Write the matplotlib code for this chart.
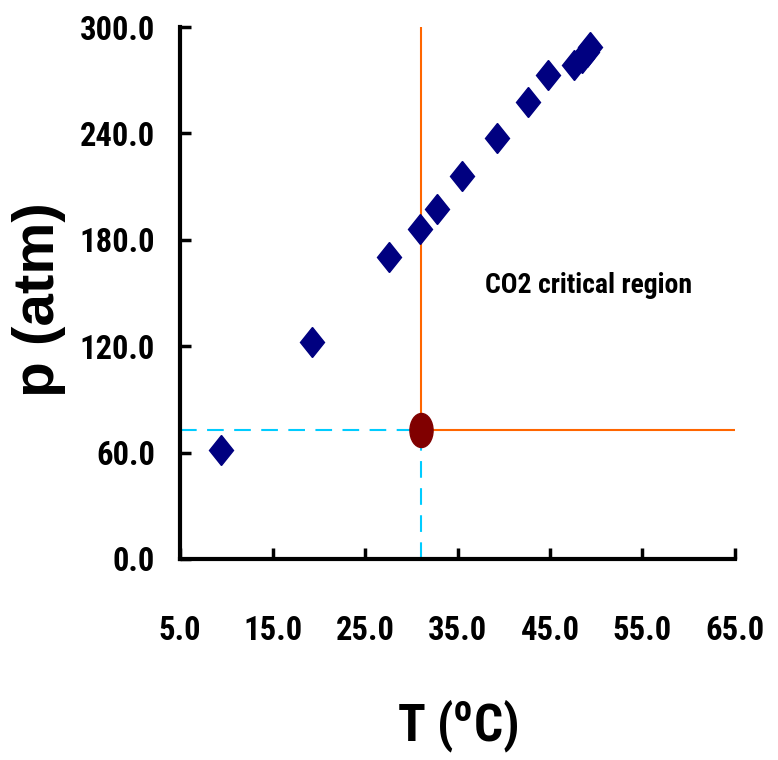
import matplotlib
matplotlib.use('Agg')
import matplotlib.pyplot as plt
from matplotlib.markers import MarkerStyle
from matplotlib.transforms import Affine2D

# CO2 saturation / supercritical measurements
temp_c = [9.43, 19.27, 27.6, 30.95, 32.78, 35.49, 39.27, 42.62, 44.78,
          47.6, 48.46, 49.0, 49.3]
press_atm = [61.5, 122.4, 170.3, 186.1, 197.4, 216.0, 237.5, 257.8, 273.0,
             278.6, 282.6, 286.0, 288.8]

# critical point of CO2
tc = 31.04
pc = 72.9

x_ticks = [5.0, 15.0, 25.0, 35.0, 45.0, 55.0, 65.0]
y_ticks = [0.0, 60.0, 120.0, 180.0, 240.0, 300.0]

narrow = ['Roboto Condensed', 'DejaVu Sans']
wide = ['Liberation Sans', 'DejaVu Sans']

fig = plt.figure(figsize=(7.78, 7.6), dpi=100)
ax = fig.add_axes([0.2314, 0.2645, 0.7133, 0.6999])

# guide lines to the axes (dashed) and boundaries of the critical region
ax.plot([x_ticks[0], tc], [pc, pc], color='#00CCFF', lw=1.5, dashes=(8, 5), zorder=2)
ax.plot([tc, tc], [y_ticks[0], pc], color='#00CCFF', lw=1.5, dashes=(8, 5), zorder=2)
ax.plot([tc, tc], [pc, y_ticks[-1]], color='#FF6600', lw=1.5, zorder=2)
ax.plot([tc, x_ticks[-1]], [pc, pc], color='#FF6600', lw=1.5, zorder=2)

diamond = MarkerStyle('D', transform=Affine2D().scale(0.78, 1.0))
ax.plot(temp_c, press_atm, linestyle='none', marker=diamond, markersize=15.5,
        color='#000080', zorder=3, clip_on=False)

ellipse = MarkerStyle('o', transform=Affine2D().scale(0.68, 1.0))
ax.plot([tc], [pc], linestyle='none', marker=ellipse, markersize=24.5,
        color='#800000', zorder=4, clip_on=False)

ax.text(38.0, 154.5, 'CO2 critical region', fontsize=20, fontweight='bold',
        family=narrow, va='center', ha='left')

ax.set_xlim(x_ticks[0], x_ticks[-1])
ax.set_ylim(y_ticks[0], y_ticks[-1])
ax.set_xticks(x_ticks)
ax.set_yticks(y_ticks)
ax.set_xticklabels(['%.1f' % v for v in x_ticks], fontsize=23.5, fontweight='bold', family=narrow)
ax.set_yticklabels(['%.1f' % v for v in y_ticks], fontsize=23.5, fontweight='bold', family=narrow)

ax.spines['top'].set_visible(False)
ax.spines['right'].set_visible(False)
ax.spines['left'].set_linewidth(3)
ax.spines['bottom'].set_linewidth(3)
ax.tick_params(axis='both', direction='in', length=8, width=2.5)
ax.tick_params(axis='x', pad=40)
ax.tick_params(axis='y', pad=18)

ax.set_xlabel('T ($\\mathregular{^oC}$)', fontsize=37, fontweight='bold', family=narrow)
ax.set_ylabel('p (atm)', fontsize=42, fontweight='bold', family=wide)
ax.xaxis.set_label_coords(0.5, -0.262)
ax.yaxis.set_label_coords(-0.205, 0.487)

fig.savefig('out.png', dpi=100)
